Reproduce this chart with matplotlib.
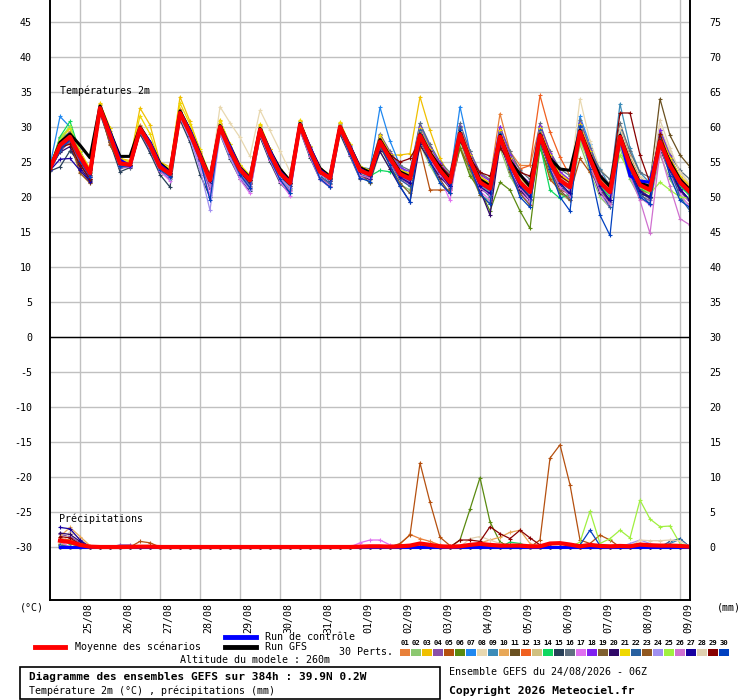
import matplotlib
matplotlib.use("Agg")
import matplotlib.pyplot as plt
import matplotlib.transforms as mtransforms
from matplotlib.patches import Rectangle
from matplotlib.lines import Line2D

plt.rcParams['font.family'] = ['DejaVu Sans Mono', 'DejaVu Sans']

# ---------------- data ----------------
hours = list(range(0, 385, 6))          # 24/08 06Z + 0..384 h
day_labels = ["25/08", "26/08", "27/08", "28/08", "29/08", "30/08", "31/08", "01/09",
              "02/09", "03/09", "04/09", "05/09", "06/09", "07/09", "08/09", "09/09"]
day_hours = [18 + 24 * k for k in range(len(day_labels))]

left_ticks = [45, 40, 35, 30, 25, 20, 15, 10, 5, 0, -5, -10, -15, -20, -25, -30]
right_labels = ["75", "70", "65", "60", "55", "50", "45", "40", "35", "30",
                "25", "20", "15", "10", "5", "0"]

temp_mean = [24.1,27.4,28.6,25.8, 23.4,32.7,28.8,24.8, 24.6,29.8,27.4,24.3, 23.3,32.0,29.1,25.8, 22.4,30.0,26.7,23.9, 22.4,29.6,26.2,23.4, 22.0,30.3,26.7,23.6, 22.7,30.0,26.9,23.8,
             23.2,27.9,25.5,23.3, 22.6,28.8,26.0,23.8, 22.1,29.0,25.2,22.1, 21.2,28.6,24.8,22.1, 20.7,28.8,25.0,22.4, 21.4,29.3,25.5,22.1, 20.7,28.6,24.5,21.7, 21.0,27.9,24.5,22.1, 20.7]
temp_ctrl = [24.1,27.3,28.5,25.8, 23.3,32.7,29.2,25.3, 24.4,29.8,27.8,24.6, 23.4,32.0,29.5,26.0, 22.5,30.0,27.2,24.1, 22.5,29.6,26.6,23.6, 22.1,30.3,27.1,23.8, 22.8,30.0,27.2,24.0,
             23.1,27.8,25.4,23.2, 22.5,28.7,25.9,23.7, 22.0,28.9,25.1,22.0, 21.1,28.5,24.7,22.0, 20.6,28.7,24.9,22.3, 21.3,29.2,25.4,22.0, 20.6,28.5,23.0,22.3, 22.1,27.8,24.4,22.0, 20.6]
temp_gfs = [24.1,27.8,29.0,27.4, 25.6,33.0,29.3,25.8, 25.8,30.0,27.8,24.8, 23.6,32.3,29.5,26.2, 22.7,30.2,27.2,24.2, 22.7,29.8,26.6,24.0, 22.3,30.5,27.0,24.1, 22.9,30.1,27.2,24.2,
            23.5,28.2,25.8,23.6, 22.9,29.0,26.3,24.2, 22.5,29.2,25.5,22.5, 21.6,28.8,25.2,23.2, 21.5,29.0,25.5,24.0, 23.8,29.5,26.0,23.0, 21.5,28.8,25.0,22.0, 21.5,28.0,25.0,22.5, 21.0]

T01 = [24.2,28.0,29.4,26.2, 23.8,33.1,29.4,25.2, 24.9,30.3,27.9,24.6, 23.6,32.5,29.6,26.3, 22.9,30.6,27.2,24.4, 22.9,30.2,26.8,23.9, 22.4,30.8,27.2,24.0, 23.1,30.5,27.4,24.3,
       23.9,28.9,26.3,24.0, 23.3,29.9,26.9,24.6, 22.9,30.2,26.5,23.3, 22.5,31.9,26.5,24.5, 24.5,30.2,26.5,23.5, 22.4,30.6,26.4,23.2, 21.9,29.7,25.8,22.6, 21.8,28.9,25.4,22.9, 21.3]
T02 = [23.9,26.8,28.0,25.2, 22.8,32.3,28.0,24.3, 24.3,29.2,26.8,23.8, 22.7,31.4,28.3,25.0, 21.3,29.3,25.9,23.0, 21.4,28.8,25.4,22.6, 21.2,29.7,26.0,22.8, 21.9,29.3,26.2,23.1,
       22.0,26.5,24.0,21.8, 21.0,27.5,24.5,22.0, 20.5,27.5,23.5,20.3, 19.5,27.0,23.0,20.5, 19.0,27.0,23.0,20.5, 19.5,27.5,23.5,20.0, 18.5,27.0,22.5,19.8, 19.0,26.0,22.5,20.0, 18.8]
T03 = [24.3,28.5,29.9,26.5, 23.9,33.4,29.8,25.5, 25.2,32.7,30.3,25.0, 24.3,34.3,30.8,26.6, 23.2,31.0,27.5,24.6, 23.0,30.3,26.9,24.0, 22.5,30.9,27.3,24.1, 23.2,30.6,27.5,24.4,
       23.5,28.4,26.0,26.0, 26.2,34.3,29.5,25.5, 23.0,30.0,26.2,23.0, 22.0,29.5,25.6,22.8, 21.5,29.8,26.0,23.2, 22.0,30.0,26.2,22.8, 21.5,29.5,25.5,22.5, 21.8,29.0,25.5,22.9, 21.5]
T04 = [23.8,26.5,27.9,25.0, 22.6,32.2,27.8,24.1, 24.3,29.1,26.6,23.6, 22.5,31.3,28.2,24.8, 21.1,29.3,25.8,22.9, 21.2,28.6,25.3,22.4, 21.0,29.6,25.9,22.8, 21.8,29.3,26.2,23.0,
       22.6,27.5,25.0,22.7, 21.8,28.5,25.4,23.0, 21.2,28.5,24.5,21.2, 20.3,28.0,24.0,21.0, 19.5,28.2,24.2,21.3, 20.2,28.6,24.6,21.0, 19.3,27.8,23.3,20.2, 19.5,27.0,23.3,20.8, 19.2]
T05 = [24.0,27.2,28.8,25.5, 22.5,32.5,28.4,24.6, 24.5,29.6,27.2,24.1, 22.9,31.8,28.8,25.5, 22.0,29.8,26.4,23.6, 22.0,29.4,26.0,23.2, 21.8,30.1,26.5,23.4, 22.4,29.8,26.7,23.6,
       23.0,27.8,25.4,23.0, 22.8,27.0,21.0,21.0, 21.0,27.0,24.0,22.0, 21.5,28.0,24.5,22.2, 21.0,27.5,22.5,21.0, 20.5,25.5,23.5,21.5, 20.0,28.0,24.0,21.0, 20.5,27.5,24.0,21.6, 20.4]
T06 = [23.8,27.6,28.4,25.6, 23.0,32.6,28.7,24.7, 24.5,29.6,27.2,24.2, 23.0,31.7,28.9,25.5, 22.1,29.8,26.5,23.7, 22.1,29.4,26.0,23.2, 21.9,30.1,26.5,23.4, 22.5,29.8,26.7,23.6,
       22.8,27.5,25.0,22.8, 22.2,28.0,25.5,23.0, 21.5,27.0,23.0,21.0, 18.0,22.1,21.0,18.0, 15.5,27.0,23.5,20.5, 20.0,28.5,24.5,21.0, 19.0,28.0,23.5,20.5, 20.0,27.0,23.5,21.0, 19.5]
T07 = [24.5,31.5,30.0,26.5, 23.6,32.9,29.0,25.0, 24.8,30.0,27.6,24.5, 23.4,32.3,29.3,26.0, 22.6,30.3,27.0,24.2, 22.7,29.9,26.5,23.8, 22.3,30.7,27.1,24.0, 23.0,30.4,27.3,24.3,
       24.0,32.8,28.0,24.5, 23.0,30.5,27.2,24.5, 22.5,32.9,26.5,22.8, 21.8,29.5,25.5,22.5, 21.0,30.0,26.0,23.0, 22.0,31.5,27.5,23.0, 21.0,30.0,25.5,22.0, 21.5,29.0,25.0,22.5, 21.0]
T08 = [24.2,27.8,29.0,26.0, 23.5,32.8,29.0,25.0, 24.7,30.0,27.6,24.5, 23.5,32.3,29.3,26.0, 22.6,32.9,30.6,28.5, 25.8,32.4,29.5,26.6, 23.6,30.6,27.0,24.0, 22.9,30.2,27.1,24.0,
       23.4,28.2,25.8,23.6, 22.9,29.2,26.4,24.0, 22.4,29.5,25.8,22.5, 21.5,29.2,25.5,22.8, 21.5,29.5,26.0,23.5, 22.5,34.0,28.0,24.0, 22.5,30.5,26.5,23.0, 22.0,30.0,26.5,23.5, 22.0]
T09 = [24.0,28.4,29.2,25.8, 23.2,32.8,29.0,24.9, 24.6,29.6,27.3,24.2, 23.2,31.9,29.0,25.7, 22.3,30.0,26.6,23.8, 22.3,29.6,26.1,23.3, 21.9,30.2,26.6,23.5, 22.6,29.9,26.8,23.7,
       23.0,27.0,25.0,23.0, 22.2,28.0,25.5,23.4, 21.6,28.5,24.8,21.8, 20.7,28.2,24.5,21.9, 20.2,28.6,25.5,23.0, 21.0,29.0,26.5,24.0, 21.5,33.3,27.0,23.5, 22.0,28.5,25.5,22.0, 20.0]
T10 = [24.1,27.2,27.5,23.5, 22.0,32.8,29.2,25.2, 25.0,30.2,27.8,24.7, 23.8,32.4,29.6,26.4, 23.0,30.4,27.1,24.3, 22.8,29.9,26.6,23.8, 22.4,30.6,27.1,24.0, 23.1,30.3,27.2,24.2,
       23.7,28.6,26.0,23.8, 23.2,29.5,26.6,24.3, 22.6,29.6,25.9,22.8, 21.8,29.3,25.5,22.8, 21.3,29.6,25.8,23.0, 22.2,30.0,26.2,22.6, 21.2,29.3,25.2,22.3, 21.6,28.5,25.2,22.8, 21.4]
T11 = [24.2,27.3,28.5,25.9, 23.5,32.6,28.8,24.9, 24.6,29.7,27.4,24.3, 23.4,32.0,29.1,25.9, 22.5,30.1,26.8,24.0, 22.4,29.6,26.2,23.4, 22.0,30.3,26.7,23.6, 22.7,30.0,26.9,23.8,
       23.1,27.8,25.4,23.2, 22.5,28.6,25.8,23.6, 21.9,28.8,25.0,21.9, 21.0,28.4,24.6,21.9, 20.5,28.6,24.8,22.2, 21.2,29.1,25.3,21.9, 20.5,28.4,24.3,21.5, 22.0,34.0,28.8,26.0, 24.3]
T12 = [24.1,27.6,28.9,25.2, 22.8,32.4,27.5,24.6, 24.6,29.9,27.6,24.4, 23.5,32.1,29.2,26.0, 22.6,30.2,26.9,24.1, 22.5,29.7,26.3,23.5, 22.2,30.4,26.8,23.7, 22.8,30.1,27.0,23.9,
       23.4,28.2,25.7,23.5, 22.8,29.2,26.4,24.0, 22.3,29.5,25.7,22.6, 21.6,29.2,25.8,24.0, 24.5,34.5,29.3,25.7, 23.0,30.0,26.0,22.5, 21.0,29.0,25.0,22.0, 21.4,28.3,25.0,22.6, 21.2]
T13 = [24.0,27.0,28.3,25.5, 23.2,32.6,28.6,24.7, 24.5,29.6,27.2,24.2, 23.1,31.8,28.9,25.6, 22.2,29.8,26.5,23.7, 22.2,29.4,26.0,23.2, 21.8,30.1,26.5,23.4, 22.5,29.8,26.7,23.6,
       22.9,27.6,25.2,23.0, 22.3,28.4,25.7,23.5, 21.8,28.6,24.8,21.7, 20.8,28.2,24.4,21.8, 20.3,28.4,24.6,22.0, 21.0,28.8,25.0,21.6, 20.2,28.0,24.0,21.2, 20.5,27.3,24.0,21.6, 20.2]
T14 = [24.1,28.6,30.8,26.4, 23.4,32.7,28.9,24.9, 24.6,29.8,27.4,24.3, 23.3,32.0,29.1,25.8, 22.4,30.0,26.7,23.9, 22.4,29.6,26.2,23.4, 22.0,30.3,26.7,23.6, 22.7,30.0,26.7,23.5,
       23.0,23.8,23.6,23.0, 22.4,28.0,25.5,23.4, 21.8,28.5,24.8,21.8, 20.8,28.0,24.2,21.6, 20.2,27.5,21.0,19.8, 20.5,28.5,24.8,21.5, 20.0,28.0,24.0,21.2, 20.5,27.3,24.0,21.5, 20.2]
T15 = [23.7,24.3,26.6,24.8, 22.4,31.9,27.8,23.6, 24.2,29.0,26.3,23.2, 21.4,31.0,27.8,23.2, 20.0,29.0,25.4,22.6, 20.8,28.6,25.0,22.0, 20.5,29.5,25.6,22.5, 21.4,29.0,25.8,22.6,
       22.6,27.6,25.0,22.8, 21.9,28.3,25.4,23.2, 21.3,28.4,24.5,21.3, 20.3,27.8,24.0,21.3, 19.7,28.0,24.2,21.5, 20.4,28.5,24.6,21.2, 19.5,27.7,23.5,20.6, 19.8,27.0,23.6,21.1, 19.5]
T16 = [24.2,27.9,29.1,26.1, 23.6,32.9,29.1,25.1, 24.8,30.0,27.6,24.5, 23.5,32.2,29.3,26.0, 22.6,30.2,27.0,24.1, 22.6,29.8,26.4,23.6, 22.2,30.5,26.9,23.8, 22.9,30.2,27.1,24.0,
       24.0,29.0,26.5,24.5, 23.8,30.5,27.5,25.0, 23.5,30.5,26.5,23.5, 22.5,30.0,26.5,23.8, 22.5,30.5,26.5,24.0, 23.0,31.0,27.0,23.8, 22.5,30.5,26.5,23.5, 22.8,29.5,26.0,23.8, 22.5]
T17 = [23.9,27.1,28.3,25.3, 22.8,32.2,28.1,24.3, 24.3,29.3,26.8,23.7, 22.3,31.5,28.4,24.6, 20.3,29.5,25.8,22.5, 20.5,28.9,25.3,22.2, 20.2,29.6,25.8,22.5, 21.4,29.5,26.0,22.7,
       22.5,27.4,24.8,22.5, 21.6,28.4,25.2,22.8, 19.5,28.6,24.3,20.8, 19.6,28.0,23.8,20.8, 19.0,28.4,24.0,21.0, 19.5,29.0,24.5,20.5, 18.5,28.0,23.0,20.0, 18.8,27.5,23.2,20.5, 18.5]
T18 = [24.1,27.5,28.6,25.9, 23.4,32.8,28.9,24.9, 24.6,29.9,27.5,24.4, 23.4,32.1,29.2,25.9, 22.4,30.1,26.8,24.0, 22.4,29.7,26.3,23.4, 22.0,30.4,26.8,23.6, 22.7,30.1,27.0,23.8,
       23.8,28.8,26.3,24.2, 23.6,30.0,27.0,24.8, 23.0,30.2,26.2,23.2, 22.3,30.0,26.0,23.2, 22.0,30.2,26.3,23.6, 22.4,30.6,26.7,23.2, 21.6,29.8,25.6,22.6, 21.0,29.6,25.8,22.8, 20.6]
T19 = [23.9,27.0,28.3,25.4, 23.1,32.5,28.4,24.5, 24.4,29.4,27.0,24.0, 23.0,31.7,28.7,25.4, 22.0,29.7,26.3,23.5, 22.0,29.3,25.8,23.0, 21.6,29.9,26.3,23.3, 22.3,29.7,26.5,23.4,
       22.0,27.2,24.5,22.0, 20.5,28.2,25.0,22.5, 20.5,28.3,24.0,20.3, 19.0,28.0,23.5,20.5, 18.8,28.0,24.0,21.0, 19.5,29.0,25.0,21.0, 19.0,28.5,24.5,21.0, 20.0,28.8,25.5,22.0, 20.5]
T20 = [24.0,26.4,27.2,24.2, 22.3,32.2,28.4,24.5, 24.4,29.4,27.0,24.0, 23.0,31.7,28.8,25.4, 22.0,29.7,26.3,23.5, 21.9,29.3,25.9,23.0, 21.6,29.9,26.4,23.3, 22.3,29.7,26.4,23.2,
       22.5,26.5,24.0,21.5, 19.3,27.5,25.0,22.8, 21.5,28.5,24.5,21.0, 17.4,27.5,24.0,21.0, 19.5,28.0,24.0,21.5, 20.5,29.0,24.5,20.5, 19.5,28.0,23.5,20.5, 20.0,27.5,23.8,21.0, 19.5]
T21 = [24.4,28.2,29.8,26.6, 24.0,33.3,29.9,25.5, 25.0,31.6,29.0,24.9, 24.0,33.4,30.4,26.8, 23.1,30.9,27.6,24.6, 23.1,30.4,26.9,24.0, 22.6,31.0,27.3,24.1, 23.2,30.7,27.5,24.4,
       23.8,28.8,26.2,23.8, 23.4,29.8,26.8,24.4, 22.8,30.0,26.0,22.8, 21.9,29.5,25.6,22.8, 21.4,29.8,26.0,23.2, 22.2,30.4,26.5,23.0, 21.5,29.8,25.6,22.6, 21.9,29.0,25.6,23.0, 21.7]
T22 = [23.8,26.6,28.1,25.4, 22.8,32.4,28.3,24.3, 24.4,29.3,26.9,23.8, 22.8,31.6,28.6,25.2, 21.6,29.6,26.1,23.2, 21.6,29.1,25.7,22.8, 21.3,29.9,26.2,23.0, 22.0,29.6,26.3,23.2,
       22.8,28.0,25.0,22.5, 21.5,29.6,26.5,23.5, 21.5,30.0,25.5,21.5, 20.0,29.2,25.0,21.5, 19.5,29.5,25.5,22.0, 20.0,30.2,25.5,21.0, 18.5,29.5,24.5,20.5, 19.0,28.5,24.0,20.0, 18.0]
T23 = [24.1,27.8,28.2,23.4, 22.0,32.6,27.4,24.8, 24.6,29.7,27.3,24.3, 23.3,31.9,28.9,25.6, 22.4,30.0,26.7,23.9, 22.4,29.6,26.2,23.4, 22.0,30.2,26.7,23.6, 22.7,30.0,26.9,23.8,
       23.3,28.0,25.6,23.4, 22.7,28.9,26.1,23.9, 22.2,29.1,25.3,22.2, 21.3,28.7,24.9,22.2, 20.8,28.9,25.1,22.5, 21.5,29.4,25.6,22.2, 20.8,28.7,24.6,21.8, 21.1,28.0,24.6,22.2, 20.8]
T24 = [23.9,27.0,28.4,25.6, 23.0,32.5,28.5,24.6, 24.4,29.5,27.1,24.0, 22.6,31.4,28.3,24.0, 18.1,29.0,25.6,22.8, 21.0,28.9,25.6,22.7, 21.3,29.9,26.3,23.2, 22.4,29.7,26.6,23.5,
       22.9,27.7,25.3,23.1, 22.3,28.6,25.8,23.6, 21.8,28.9,25.0,21.8, 20.9,28.5,24.6,21.9, 20.4,28.7,24.8,22.2, 21.1,29.2,25.4,22.0, 20.4,28.5,24.4,21.6, 20.8,27.8,24.4,22.0, 20.5]
T25 = [24.0,28.2,30.2,26.2, 23.4,32.7,28.8,24.8, 24.6,29.8,27.4,24.3, 23.3,32.0,29.0,25.8, 22.4,30.0,26.7,23.9, 22.3,29.6,26.2,23.4, 22.0,30.3,26.7,23.6, 22.7,30.0,26.9,23.8,
       23.1,27.8,25.4,23.2, 22.5,28.7,25.9,23.7, 22.0,28.9,25.1,22.0, 21.1,28.5,24.7,22.0, 20.6,28.7,24.9,22.3, 21.3,28.0,24.5,21.5, 21.0,26.0,23.5,21.5, 20.5,22.1,21.0,20.0, 19.8]
T26 = [23.9,27.3,28.5,25.4, 22.9,32.4,28.2,24.5, 24.4,29.4,27.0,23.9, 22.9,31.7,28.6,25.3, 21.6,29.6,26.1,23.2, 21.4,29.1,25.5,22.6, 20.8,29.7,25.9,22.6, 21.6,29.5,26.2,23.1,
       22.7,27.5,25.0,22.8, 22.0,28.3,25.4,23.2, 21.4,28.5,24.5,21.3, 20.3,28.0,24.0,21.3, 19.6,28.2,24.2,21.4, 20.2,28.6,24.5,20.8, 19.0,27.8,23.0,19.5, 14.8,26.5,21.5,16.9, 16.0]
T27 = [23.8,25.4,25.5,23.8, 22.2,32.6,28.6,24.7, 24.5,29.7,27.4,24.3, 23.3,32.0,29.1,25.8, 22.3,30.1,26.8,24.0, 22.4,29.7,26.3,23.5, 22.0,30.4,26.8,23.6, 22.6,30.1,26.9,23.6,
       23.0,27.8,25.3,22.8, 22.0,29.0,26.0,23.5, 21.5,29.0,25.0,21.5, 20.5,28.5,24.5,21.5, 20.0,28.8,25.0,22.0, 20.5,29.5,25.2,21.5, 19.5,28.5,24.0,20.8, 20.0,27.6,24.0,21.2, 19.5]
T28 = [24.2,27.6,28.9,26.0, 23.6,32.9,29.1,25.0, 24.7,30.0,27.6,24.5, 23.5,32.3,29.3,26.0, 22.6,30.3,27.0,24.1, 22.6,29.8,26.5,23.6, 22.2,30.5,26.9,23.8, 22.9,30.2,27.1,24.0,
       23.5,28.2,25.7,23.5, 22.9,29.1,26.3,24.1, 22.4,29.4,25.6,22.5, 21.5,29.0,25.2,22.5, 21.0,29.2,25.4,22.8, 21.8,29.8,26.0,22.8, 21.3,29.8,25.5,22.5, 21.8,31.0,27.0,23.5, 21.8]
T29 = [24.0,27.0,27.6,24.6, 22.6,32.5,28.7,24.8, 24.5,29.8,27.4,24.3, 23.4,32.0,29.1,25.8, 22.4,30.0,26.7,23.9, 22.4,29.6,26.2,23.4, 22.0,30.3,26.7,23.6, 22.7,30.0,26.9,23.8,
       23.2,27.9,26.0,25.0, 25.5,28.0,26.5,24.5, 23.0,28.0,25.5,23.5, 23.0,27.0,25.0,23.5, 23.0,28.0,25.5,23.0, 22.0,29.0,26.0,23.0, 21.5,32.0,32.0,26.0, 22.0,29.0,25.0,22.0, 21.0]
T30 = [23.8,26.8,28.2,25.2, 22.9,32.4,28.2,24.4, 24.4,29.5,27.0,23.9, 22.9,31.8,28.7,25.3, 19.5,29.7,26.2,23.2, 21.3,29.1,25.5,22.5, 20.6,29.8,26.1,22.6, 21.4,29.5,26.1,22.7,
       22.2,27.5,24.5,21.5, 19.3,29.0,25.0,22.0, 20.5,29.5,24.5,20.5, 19.0,29.0,24.0,20.0, 18.5,29.0,24.0,20.0, 18.0,30.0,24.0,17.4, 14.5,28.5,23.5,20.0, 19.0,28.0,23.0,19.5, 18.5]

# precipitation (mm per 6 h), step index -> value; missing steps are 0
R01 = {1: 1.0, 2: 1.0, 3: 0.5, 35: 0.4, 36: 1.8, 37: 1.2, 38: 0.8, 39: 0.3}
R02 = {1: 0.2}
R03 = {1: 0.5}
R04 = {1: 1.8, 2: 1.5, 3: 0.6, 7: 0.3, 8: 0.3}
R05 = {1: 0.5, 9: 0.8, 10: 0.6, 35: 0.5, 36: 1.7, 37: 12.0, 38: 6.4, 39: 1.4, 40: 0.2,
       49: 1.0, 50: 12.7, 51: 14.6, 52: 8.9, 53: 1.0, 54: 0.5, 55: 1.7, 56: 1.0}
R06 = {41: 1.0, 42: 5.4, 43: 9.9, 44: 3.6, 45: 0.7}
R07 = {1: 0.3}
R08 = {2: 2.2, 3: 1.2}
R09 = {62: 0.5, 63: 1.1}
R10 = {1: 1.5, 2: 2.8, 3: 1.5, 4: 0.2, 43: 0.6, 44: 1.0, 45: 1.4, 46: 2.1, 47: 2.4, 48: 0.5}
R11 = {}
R12 = {1: 1.2, 2: 1.0, 3: 0.3}
R13 = {1: 0.6}
R14 = {1: 1.0, 2: 0.5, 46: 0.7, 47: 0.5}
R15 = {}
R16 = {}
R17 = {1: 0.8, 31: 0.6, 32: 1.0, 33: 1.0, 34: 0.3}
R18 = {}
R19 = {}
R20 = {1: 2.0, 2: 1.8, 3: 0.8}
R21 = {}
R22 = {1: 0.3, 62: 0.8, 63: 1.2}
R23 = {}
R24 = {58: 0.5, 59: 1.0, 60: 0.5}
R25 = {53: 0.7, 54: 5.1, 55: 0.5, 56: 1.2, 57: 2.4, 58: 1.3, 59: 6.7, 60: 4.0, 61: 2.9, 62: 3.0, 63: 0.5}
R26 = {}
R27 = {1: 2.8, 2: 2.6, 3: 1.0}
R28 = {42: 1.2, 43: 1.5, 44: 1.0, 45: 0.5, 59: 1.0, 60: 0.9, 61: 0.9, 62: 1.0, 63: 0.9}
R29 = {1: 1.5, 2: 1.3, 3: 0.4, 41: 1.0, 42: 1.0, 43: 0.8, 44: 2.9, 45: 1.9, 46: 1.2, 47: 2.4, 48: 1.3, 49: 0.3}
R30 = {53: 0.3, 54: 2.4, 55: 0.2}

precip_mean = [0.9,0.7,0.3,0.05,0,0,0,0.02, 0.05,0.05,0,0,0,0,0,0, 0,0,0,0,0,0,0,0,
               0,0,0,0,0,0,0.05,0.1, 0.1,0.05,0.1,0.2,0.5,0.3,0.1,0.05,
               0.1,0.3,0.45,0.3,0.2,0.2,0.2,0.1, 0.1,0.5,0.55,0.35,0.1,0.3,0.15,0.1,
               0.15,0.1,0.35,0.25,0.2,0.2,0.15,0.05]
precip_ctrl = [0.0] * 64
precip_gfs = [0.0] * 64

pert_labels = ["%02d" % k for k in range(1, 31)]
pert_colors = ["#E8803A", "#8CC870", "#F0C000", "#8A50A8", "#B5500F", "#5A8A10", "#2088F0",
               "#E8D8B0", "#3C8CB8", "#E8A858", "#6A5020", "#F06020", "#D0C080", "#10D860",
               "#284058", "#607080", "#E070F0", "#8020F0", "#806030", "#300868", "#F0D800",
               "#2860A0", "#905820", "#A090F0", "#A0F040", "#D070D0", "#1800A0", "#E0D0B0",
               "#880000", "#0040C0"]

temp_perts = [T01, T02, T03, T04, T05, T06, T07, T08, T09, T10, T11, T12, T13, T14, T15,
              T16, T17, T18, T19, T20, T21, T22, T23, T24, T25, T26, T27, T28, T29, T30]
rain_perts = [R01, R02, R03, R04, R05, R06, R07, R08, R09, R10, R11, R12, R13, R14, R15,
              R16, R17, R18, R19, R20, R21, R22, R23, R24, R25, R26, R27, R28, R29, R30]

PRECIP_OFFSET = 30  # precipitation panel: 0 mm drawn at -30 on the temperature scale

# ---------------- figure ----------------
W, H = 740, 700
fig = plt.figure(figsize=(W / 100, H / 100), dpi=100)
fig.patch.set_facecolor("white")
ax = fig.add_axes([50 / W, 100 / H, 640 / W, 600 / H])
ylim = (-37.57, 48.14)
ax.set_xlim(0, 384)
ax.set_ylim(*ylim)

ax.set_xticks(day_hours)
ax.set_xticklabels([])
ax.set_yticks(left_ticks)
ax.set_yticklabels([str(v) for v in left_ticks])
ax.tick_params(axis="x", length=0)
ax.tick_params(axis="y", length=0, pad=13, labelsize=7.2)
ax.grid(True, color="#C0C0C0", lw=1.0)
ax.set_axisbelow(True)
for s in ["left", "right", "bottom"]:
    ax.spines[s].set_color("black")
    ax.spines[s].set_linewidth(1.2)
ax.spines["top"].set_visible(False)
ax.axhline(0, color="black", lw=1.0, zorder=1.5)

ax2 = ax.twinx()
ax2.set_ylim(*ylim)
ax2.set_yticks(left_ticks)
ax2.set_yticklabels(right_labels)
ax2.tick_params(axis="y", length=0, pad=14, labelsize=7.2)
ax2.spines["top"].set_visible(False)
for s in ["left", "right", "bottom"]:
    ax2.spines[s].set_color("black")
    ax2.spines[s].set_linewidth(1.2)

# temperature members
for vals, col in zip(temp_perts, pert_colors):
    ax.plot(hours, vals, color=col, lw=0.9, marker="+", ms=3.5, mew=0.8, zorder=2)
ax.plot(hours, temp_gfs, color="black", lw=2.2, zorder=3)
ax.plot(hours, temp_ctrl, color="#0000FF", lw=2.2, zorder=3.1)
ax.plot(hours, temp_mean, color="#FF0000", lw=3.0, zorder=4)

# precipitation members
ph = hours[1:]
for rain, col in zip(rain_perts, pert_colors):
    vals = [rain.get(i, 0.0) - PRECIP_OFFSET for i in range(1, len(hours))]
    ax.plot(ph, vals, color=col, lw=0.9, marker="+", ms=3.5, mew=0.8, zorder=2)
ax.plot(ph, [v - PRECIP_OFFSET for v in precip_gfs], color="black", lw=2.2, zorder=3)
ax.plot(ph, [v - PRECIP_OFFSET for v in precip_ctrl], color="#0000FF", lw=2.2, zorder=3.1)
ax.plot(ph, [v - PRECIP_OFFSET for v in precip_mean], color="#FF0000", lw=3.0, zorder=4)

# panel titles
ax.text(0.0156, 1 - 91 / 600, "Températures 2m", transform=ax.transAxes,
        fontsize=7.2, va="center", ha="left", zorder=5)
ax.text(0.0140, 1 - 519 / 600, "Précipitations", transform=ax.transAxes,
        fontsize=7.2, va="center", ha="left", zorder=5)

# date labels
blend = mtransforms.blended_transform_factory(ax.transData, ax.transAxes)
off = mtransforms.ScaledTranslation(8 / 100, -3 / 100, fig.dpi_scale_trans)
for h, lab in zip(day_hours, day_labels):
    ax.text(h, 0, lab, transform=blend + off, rotation=90, ha="center", va="top",
            fontsize=7.2)


def fx(x):
    return x / W


def fy(y):
    return 1 - y / H


fs = 7.2
fig.text(fx(20), fy(607), "(°C)", fontsize=fs, va="center", ha="left")
fig.text(fx(717), fy(607), "(mm)", fontsize=fs, va="center", ha="left")

# legend lines
fig.add_artist(Line2D([fx(35), fx(65)], [fy(647), fy(647)], color="#FF0000", lw=3.5))
fig.text(fx(75), fy(647), "Moyenne des scénarios", fontsize=fs, va="center", ha="left")
fig.add_artist(Line2D([fx(225), fx(256)], [fy(637), fy(637)], color="#0000FF", lw=3.5))
fig.text(fx(265), fy(637), "Run de contrôle", fontsize=fs, va="center", ha="left")
fig.add_artist(Line2D([fx(225), fx(256)], [fy(647), fy(647)], color="black", lw=3.5))
fig.text(fx(265), fy(647), "Run GFS", fontsize=fs, va="center", ha="left")
fig.text(fx(339), fy(652), "30 Perts.", fontsize=fs, va="center", ha="left")
fig.text(fx(180), fy(660), "Altitude du modele : 260m", fontsize=fs, va="center", ha="left")

for k, (lab, col) in enumerate(zip(pert_labels, pert_colors)):
    x0 = 400 + 11 * k
    fig.add_artist(Rectangle((fx(x0), fy(656)), 10 / W, 7 / H, transform=fig.transFigure,
                             facecolor=col, edgecolor="none"))
    fig.text(fx(x0 + 5), fy(643), lab, fontsize=5.2, fontweight="bold",
             va="center", ha="center")

# bottom box
fig.add_artist(Rectangle((fx(20), fy(699)), 420 / W, 32 / H, transform=fig.transFigure,
                         facecolor="none", edgecolor="black", lw=1.2))
fig.text(fx(29), fy(677), "Diagramme des ensembles GEFS sur 384h : 39.9N 0.2W",
         fontsize=8.0, fontweight="bold", va="center", ha="left")
fig.text(fx(29), fy(691), "Température 2m (°C) , précipitations (mm)",
         fontsize=fs, va="center", ha="left")
fig.text(fx(449), fy(672), "Ensemble GEFS du 24/08/2026 - 06Z",
         fontsize=fs, va="center", ha="left")
fig.text(fx(449), fy(691), "Copyright 2026 Meteociel.fr",
         fontsize=8.2, fontweight="bold", va="center", ha="left")

fig.savefig("out.png", dpi=100, facecolor="white")
